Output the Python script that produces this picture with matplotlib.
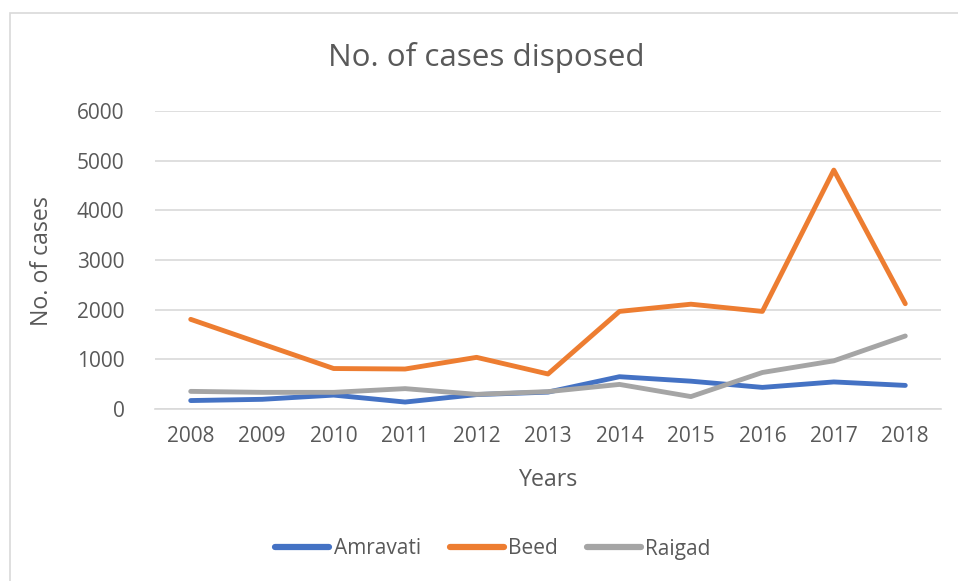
import matplotlib
matplotlib.use("Agg")
import matplotlib.pyplot as plt
from matplotlib.patches import Rectangle

# data
years = ["2008", "2009", "2010", "2011", "2012", "2013", "2014", "2015", "2016", "2017", "2018"]
amravati = [170, 195, 280, 140, 290, 340, 650, 560, 435, 545, 475]
beed = [1805, 1310, 815, 805, 1040, 705, 1965, 2110, 1965, 4810, 2120]
raigad = [355, 335, 335, 410, 295, 350, 495, 250, 735, 970, 1470]
yticks = [0, 1000, 2000, 3000, 4000, 5000, 6000]

text_col = "#595959"
grid_col = "#D9D9D9"
plt.rcParams["font.family"] = ["Open Sans", "DejaVu Sans"]

W, H = 958, 581
fig = plt.figure(figsize=(W / 100, H / 100), dpi=100)

# chart-area border (only left and top visible in the crop)
fig.add_artist(Rectangle((10 / W, -0.1), 2.0, (H - 13) / H + 0.1, transform=fig.transFigure,
                         fill=False, edgecolor=grid_col, linewidth=1.2))

ax = fig.add_axes([155 / W, (H - 409) / H, (941 - 155) / W, (409 - 111) / H])
x = list(range(len(years)))
ax.plot(x, amravati, color="#4472C4", linewidth=3.5, solid_capstyle="round", label="Amravati")
ax.plot(x, beed, color="#ED7D31", linewidth=3.5, solid_capstyle="round", label="Beed")
ax.plot(x, raigad, color="#A5A5A5", linewidth=3.5, solid_capstyle="round", label="Raigad")

ax.set_xlim(-0.5, len(years) - 0.5)
ax.set_ylim(0, 6000)
ax.set_xticks(x)
ax.set_xticklabels(years)
ax.set_yticks(yticks)
ax.set_yticklabels([str(v) for v in yticks])
ax.tick_params(axis="both", length=0, labelsize=15, colors=text_col)
ax.tick_params(axis="y", pad=22)
ax.tick_params(axis="x", pad=12)
ax.grid(axis="y", color=grid_col, linewidth=1.2)
ax.set_axisbelow(True)
for s in ["left", "right", "top"]:
    ax.spines[s].set_visible(False)
ax.spines["bottom"].set_color(grid_col)
ax.spines["bottom"].set_linewidth(1.2)

fig.text(486 / W, 1 - 66 / H, "No. of cases disposed", ha="center", va="baseline",
         fontsize=22.6, color=text_col)
fig.text(548 / W, 1 - 480 / H, "Years", ha="center", va="center", fontsize=16.7, color=text_col)
fig.text(42 / W, 1 - 261 / H, "No. of cases", ha="center", va="center", rotation=90,
         fontsize=16.7, color=text_col)

leg = fig.legend(loc="center", bbox_to_anchor=(493 / W, 1 - 549 / H), ncol=3, frameon=False,
                 fontsize=15, handlelength=2.6, handletextpad=0.2, columnspacing=1.4)
for t in leg.get_texts():
    t.set_color(text_col)
for h in leg.get_lines():
    h.set_linewidth(4.5)

fig.savefig("out.png", dpi=100)
